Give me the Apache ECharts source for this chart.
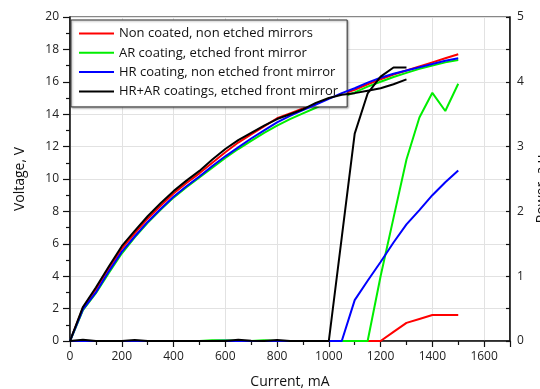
<!DOCTYPE html>
<html>
<head>
<meta charset="utf-8">
<script src="https://cdn.jsdelivr.net/npm/echarts@6/dist/echarts.min.js"></script>
<style>html,body{margin:0;padding:0;background:#fff;}#c{width:540px;height:389px;}</style>
</head>
<body>
<div id="c"></div>
<script>
// Current, mA
var current = [0,50,100,150,200,250,300,350,400,450,500,550,600,650,700,750,800,850,900,950,1000,1050,1100,1150,1200,1250,1300,1350,1400,1450,1500];
var currentBlack = [0,50,100,150,200,250,300,350,400,450,500,550,600,650,700,750,800,850,900,950,1000,1050,1100,1150,1200,1250,1300];

var seriesNames = ["Non coated, non etched mirrors","AR coating, etched front mirror","HR coating, non etched front mirror","HR+AR coatings, etched front mirror"];

// Voltage, V
var voltRed   = [0,2.05,3.2,4.5,5.7,6.65,7.55,8.35,9.1,9.75,10.35,11.0,11.65,12.25,12.75,13.25,13.75,14.05,14.35,14.7,15.0,15.25,15.5,15.85,16.15,16.45,16.7,16.95,17.2,17.45,17.7];
var voltGreen = [0,1.9,2.95,4.2,5.4,6.4,7.3,8.1,8.85,9.5,10.1,10.7,11.3,11.85,12.35,12.85,13.3,13.7,14.05,14.4,14.75,15.05,15.35,15.7,16.0,16.3,16.55,16.8,17.0,17.2,17.35];
var voltBlue  = [0,1.95,3.0,4.3,5.5,6.45,7.35,8.15,8.9,9.55,10.15,10.8,11.4,11.95,12.5,13.0,13.5,13.9,14.25,14.6,14.95,15.3,15.6,15.95,16.25,16.5,16.7,16.9,17.1,17.3,17.45];
var voltBlack = [0,2.1,3.3,4.6,5.85,6.8,7.7,8.5,9.25,9.9,10.5,11.2,11.85,12.4,12.85,13.3,13.7,14.0,14.3,14.7,15.0,15.2,15.3,15.45,15.6,15.85,16.15];

// Power, a.u.
var powRed   = [0,0,0,0,0,0,0,0,0,0,0,0,0,0,0,0,0,0,0,0,0,0,0,0,0,0.14,0.28,0.34,0.4,0.4,0.4];
var powGreen = [0,0,0,0,0,0,0,0,0,0,0,0.01,0.01,0,0,0.01,0,0,0,0,0,0,0,0,1.0,1.9,2.8,3.45,3.83,3.55,3.97];
var powBlue  = [0,0,0,0,0,0,0,0,0,0,0,0,0.005,0,0,0,0,0,0,0,0,0,0.63,0.93,1.22,1.52,1.8,2.02,2.25,2.45,2.63];
var powBlack = [0,0.02,0,0,0,0.015,0,0,0,0,0,0,0,0.02,0.005,0,0.015,0,0,0,0,1.6,3.2,3.82,4.08,4.22,4.22];

var colors = ["#ff0000","#00ee00","#0000ff","#000000"];

function pairs(xs, ys){ return xs.map(function(x,i){ return [x, ys[i]]; }); }

var voltData = [pairs(current, voltRed), pairs(current, voltGreen), pairs(current, voltBlue), pairs(currentBlack, voltBlack)];
var powData  = [pairs(current, powRed), pairs(current, powGreen), pairs(current, powBlue), pairs(currentBlack, powBlack)];

var series = [];
for (var i = 0; i < 4; i++) {
  series.push({type:'line', name: seriesNames[i], yAxisIndex:0, data: voltData[i], symbol:'none', lineStyle:{color:colors[i], width:2}, itemStyle:{color:colors[i]}, z: 2+i});
}
for (var i = 0; i < 4; i++) {
  series.push({type:'line', name: seriesNames[i], yAxisIndex:1, data: powData[i], symbol:'none', lineStyle:{color:colors[i], width:2}, itemStyle:{color:colors[i]}, z: 2+i});
}

var font = "'Open Sans', sans-serif";
var chart = echarts.init(document.getElementById('c'), null, {renderer:'canvas'});
chart.setOption({
  animation:false,
  backgroundColor:'#ffffff',
  grid:{left:70, right:30, top:17, bottom:48, show:true, borderColor:'#111', borderWidth:1.2, backgroundColor:'transparent', outerBoundsMode:'none', containLabel:false},
  legend:{
    data: seriesNames, orient:'vertical', left:71, top:20,
    itemWidth:35, itemHeight:14, itemGap:6.3,
    padding:[7,9,9,7],
    itemStyle:{opacity:0},
    lineStyle:{width:2},
    backgroundColor:'#fff', borderColor:'#333', borderWidth:1,
    shadowColor:'rgba(0,0,0,0.35)', shadowBlur:2, shadowOffsetX:1, shadowOffsetY:1,
    textStyle:{fontFamily:font, fontSize:13, color:'#111'}
  },
  xAxis:{
    type:'value', min:0, max:1700, interval:200,
    name:'Current, mA', nameLocation:'middle', nameGap:34,
    nameTextStyle:{fontFamily:font, fontSize:14, color:'#111'},
    axisLine:{show:true, lineStyle:{color:'#111', width:1.5}},
    axisTick:{show:true, length:6, lineStyle:{color:'#111', width:1.2}},
    minorTick:{show:true, splitNumber:2, length:4, lineStyle:{color:'#111', width:1.2}},
    axisLabel:{fontFamily:font, fontSize:12, color:'#222', margin:10, showMaxLabel:false,
      formatter:function(v){ return v > 1600 ? '' : String(v); }},
    splitLine:{show:true, lineStyle:{color:'#e2e2e2', width:1}}
  },
  yAxis:[{
    type:'value', min:0, max:20, interval:2, position:'left',
    name:'Voltage, V', nameLocation:'middle', nameGap:43,
    nameTextStyle:{fontFamily:font, fontSize:14, color:'#111'},
    axisLine:{show:true, lineStyle:{color:'#111', width:1.5}},
    axisTick:{show:true, length:7, lineStyle:{color:'#111', width:1.2}},
    minorTick:{show:true, splitNumber:2, length:4, lineStyle:{color:'#111', width:1.2}},
    axisLabel:{fontFamily:font, fontSize:12, color:'#222', margin:11},
    splitLine:{show:true, lineStyle:{color:'#e2e2e2', width:1}}
  },{
    type:'value', min:0, max:5, interval:1, position:'right',
    name:'Power, a.u.', nameLocation:'middle', nameGap:21,
    nameTextStyle:{fontFamily:font, fontSize:14, color:'#111', padding:[0,16,0,0]},
    axisLine:{show:true, lineStyle:{color:'#111', width:1.5}},
    axisTick:{show:true, inside:true, length:4, lineStyle:{color:'#111', width:1.2}},
    minorTick:{show:true, splitNumber:2, length:4, lineStyle:{color:'#111', width:1.2}},
    axisLabel:{fontFamily:font, fontSize:12, color:'#222', margin:7},
    splitLine:{show:false}
  }],
  series: series
});
</script>
</body>
</html>
